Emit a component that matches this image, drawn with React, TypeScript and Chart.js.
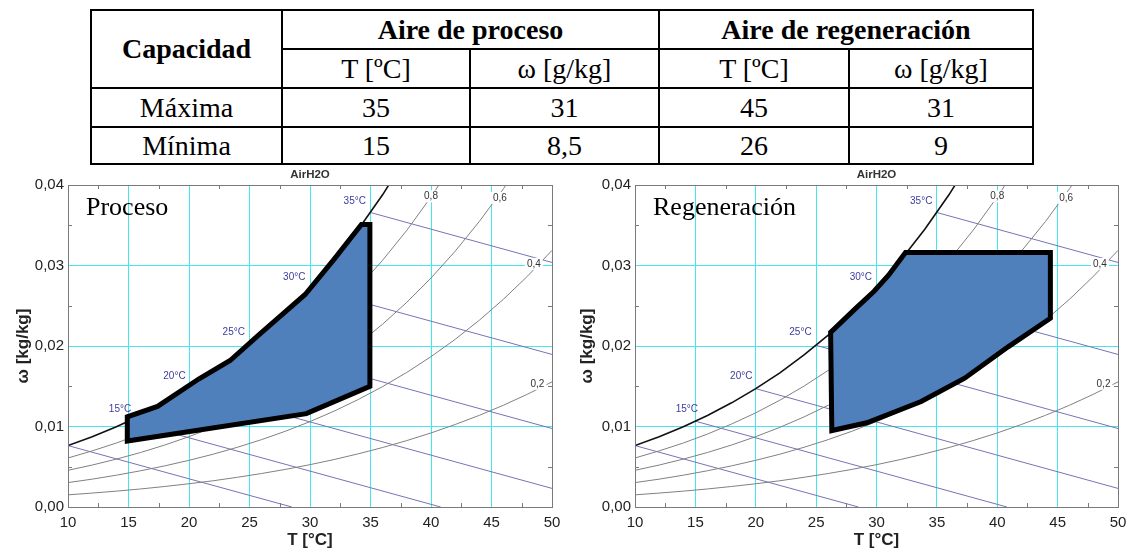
import React, { useEffect, useRef } from 'react';
import { Chart, registerables } from 'chart.js';

Chart.register(...registerables);

// ---------------- Table data ----------------
const tableCorner = 'Capacidad';
const tableGroups = ['Aire de proceso', 'Aire de regeneración'];
const tableSubHeaders = ['T [ºC]', 'ω [g/kg]', 'T [ºC]', 'ω [g/kg]'];
const tableRowLabels = ['Máxima', 'Mínima'];
const tableMaxRow = ['35', '31', '45', '31'];
const tableMinRow = ['15', '8,5', '26', '9'];

// ---------------- Chart axes ----------------
const xMin = 10;
const xMax = 50;
const xStep = 5;
const yMin = 0;
const yMax = 0.04;
const yStep = 0.01;
const chartTitle = 'AirH2O';
const xTitle = 'T [°C]';
const yTitle = 'ω [kg/kg]';

// ---------------- Psychrometric curves ----------------
const satT = [10, 12, 14, 16, 18, 20, 22, 24, 26, 28, 30, 32, 34, 36, 38];
const satW = [0.00763, 0.00873, 0.00997, 0.01137, 0.01294, 0.0147, 0.01667, 0.01889, 0.02135, 0.02412, 0.02721, 0.03066, 0.0345, 0.03878, 0.04357];

const rh80T = [10, 12, 14, 16, 18, 20, 22, 24, 26, 28, 30, 32, 34, 36, 38, 40, 42];
const rh80W = [0.00609, 0.00697, 0.00795, 0.00906, 0.01031, 0.0117, 0.01327, 0.01502, 0.01697, 0.01915, 0.02158, 0.02429, 0.0273, 0.03065, 0.03437, 0.03851, 0.04311];

const rh60T = [10, 12, 14, 16, 18, 20, 22, 24, 26, 28, 30, 32, 34, 36, 38, 40, 42, 44, 46, 48];
const rh60W = [0.00456, 0.00521, 0.00595, 0.00677, 0.0077, 0.00874, 0.0099, 0.01119, 0.01264, 0.01425, 0.01605, 0.01804, 0.02025, 0.02271, 0.02543, 0.02844, 0.03178, 0.03548, 0.03956, 0.04408];

const rh40T = [10, 12, 14, 16, 18, 20, 22, 24, 26, 28, 30, 32, 34, 36, 38, 40, 42, 44, 46, 48, 50];
const rh40W = [0.00303, 0.00346, 0.00395, 0.0045, 0.00511, 0.0058, 0.00656, 0.00742, 0.00837, 0.00943, 0.01061, 0.01191, 0.01336, 0.01496, 0.01672, 0.01868, 0.02083, 0.02321, 0.02583, 0.02871, 0.03188];

const rh20T = [10, 12, 14, 16, 18, 20, 22, 24, 26, 28, 30, 32, 34, 36, 38, 40, 42, 44, 46, 48, 50];
const rh20W = [0.00151, 0.00173, 0.00197, 0.00224, 0.00255, 0.00289, 0.00326, 0.00369, 0.00416, 0.00468, 0.00526, 0.0059, 0.00661, 0.00739, 0.00825, 0.0092, 0.01025, 0.01139, 0.01265, 0.01403, 0.01554];

// Wet-bulb lines (start on saturation curve, end at plot edge)
const wbStartT = [10, 15, 20, 25, 30, 35];
const wbStartW = [0.00763, 0.01066, 0.0147, 0.02008, 0.02721, 0.03658];
const wbEndT = [28.5, 40.8, 50, 50, 50, 50];
const wbEndW = [0, 0, 0.00231, 0.00975, 0.01895, 0.03038];

// Labels
const wbLabels = ['15°C', '20°C', '25°C', '30°C', '35°C'];
const wbLabelT = [14.3, 18.8, 23.7, 28.7, 33.7];
const wbLabelW = [0.0122, 0.01626, 0.0217, 0.0285, 0.038];

const rhLabels = ['0,8', '0,6', '0,4', '0,2'];
const rhLabelT = [40.0, 45.7, 48.5, 48.8];
const rhLabelW = [0.0386, 0.0384, 0.0302, 0.0153];

// ---------------- Operating regions ----------------
const procesoName = 'Proceso';
const procesoT = [14.9, 17.4, 20.8, 23.4, 25.7, 29.6, 32.0, 34.25, 34.95, 34.95, 29.7, 14.9];
const procesoW = [0.0112, 0.0125, 0.0159, 0.0182, 0.0213, 0.0264, 0.0308, 0.0351, 0.0351, 0.0150, 0.0116, 0.0082];

const regenName = 'Regeneración';
const regenT = [26.2, 28.3, 29.8, 31.0, 32.4, 44.4, 44.4, 40.9, 37.3, 33.7, 29.2, 26.3];
const regenW = [0.0217, 0.0247, 0.0268, 0.0288, 0.0316, 0.0316, 0.02345, 0.0199, 0.016, 0.0131, 0.01046, 0.0095];

const SANS = "'Liberation Sans', Arial, sans-serif";
const SERIF = "'Liberation Serif', 'Times New Roman', serif";
const CYAN = '#44e6ef';

function pts(T: number[], W: number[]) {
  return T.map((t, i) => ({ x: t, y: W[i] }));
}

function curve(T: number[], W: number[], color: string, width: number) {
  return {
    data: pts(T, W),
    showLine: true,
    borderColor: color,
    borderWidth: width,
    pointRadius: 0,
    fill: false,
    tension: 0,
  };
}

const overlayPlugin = {
  id: 'psyOverlay',
  afterDatasetsDraw(chart: any) {
    const { ctx, chartArea } = chart;
    const xs = chart.scales.x;
    const ys = chart.scales.y;
    const name = chart.options.plugins.psyOverlay.name;
    ctx.save();

    // RH labels with white background
    ctx.font = `10px ${SANS}`;
    ctx.textAlign = 'center';
    ctx.textBaseline = 'middle';
    rhLabels.forEach((lab, i) => {
      const px = xs.getPixelForValue(rhLabelT[i]);
      const py = ys.getPixelForValue(rhLabelW[i]);
      const w = ctx.measureText(lab).width;
      ctx.fillStyle = '#ffffff';
      ctx.fillRect(px - w / 2 - 2, py - 6, w + 4, 12);
      ctx.fillStyle = '#333333';
      ctx.fillText(lab, px, py);
    });

    // Wet-bulb labels
    ctx.fillStyle = '#3c3c9e';
    wbLabels.forEach((lab, i) => {
      ctx.fillText(lab, xs.getPixelForValue(wbLabelT[i]), ys.getPixelForValue(wbLabelW[i]));
    });

    // Title
    ctx.fillStyle = '#333333';
    ctx.font = `bold 11.5px ${SANS}`;
    ctx.fillText(chartTitle, (chartArea.left + chartArea.right) / 2, chartArea.top - 10);

    // Panel name
    ctx.fillStyle = '#000000';
    ctx.font = `26px ${SERIF}`;
    ctx.textAlign = 'left';
    ctx.textBaseline = 'alphabetic';
    ctx.fillText(name, chartArea.left + 18, chartArea.top + 30);

    // Box and minor ticks
    ctx.strokeStyle = '#7a7a7a';
    ctx.lineWidth = 1;
    ctx.strokeRect(
      Math.round(chartArea.left) + 0.5,
      Math.round(chartArea.top) + 0.5,
      Math.round(chartArea.right - chartArea.left),
      Math.round(chartArea.bottom - chartArea.top)
    );
    ctx.beginPath();
    for (let t = xMin + xStep / 2; t < xMax; t += xStep) {
      const px = Math.round(xs.getPixelForValue(t)) + 0.5;
      ctx.moveTo(px, chartArea.bottom);
      ctx.lineTo(px, chartArea.bottom - 4);
      ctx.moveTo(px, chartArea.top);
      ctx.lineTo(px, chartArea.top + 4);
    }
    for (let w = yMin + yStep / 2; w < yMax; w += yStep) {
      const py = Math.round(ys.getPixelForValue(w)) + 0.5;
      ctx.moveTo(chartArea.left, py);
      ctx.lineTo(chartArea.left + 4, py);
      ctx.moveTo(chartArea.right, py);
      ctx.lineTo(chartArea.right - 4, py);
    }
    ctx.stroke();
    ctx.restore();
  },
};

function isEdge(v: number, a: number, b: number) {
  return Math.abs(v - a) < 1e-9 || Math.abs(v - b) < 1e-9;
}

type PsyProps = {
  left: number;
  width: number;
  yAxisWidth: number;
  padRight: number;
  yTitlePad: number;
  polyT: number[];
  polyW: number[];
  name: string;
};

function PsyChart({ left, width, yAxisWidth, padRight, yTitlePad, polyT, polyW, name }: PsyProps) {
  const ref = useRef<HTMLCanvasElement | null>(null);

  useEffect(() => {
    if (!ref.current) return;
    const poly = pts(polyT, polyW);
    const datasets: any[] = [
      {
        data: [...poly, poly[0], poly[1]],
        showLine: true,
        borderColor: '#000000',
        borderWidth: 5,
        backgroundColor: '#4f80bb',
        fill: 'shape',
        pointRadius: 0,
        borderJoinStyle: 'miter',
        tension: 0,
      },
      curve(satT, satW, '#111111', 1.6),
      curve(rh80T, rh80W, '#808080', 1),
      curve(rh60T, rh60W, '#808080', 1),
      curve(rh40T, rh40W, '#808080', 1),
      curve(rh20T, rh20W, '#808080', 1),
      ...wbStartT.map((t, i) => curve([t, wbEndT[i]], [wbStartW[i], wbEndW[i]], '#7474b8', 1)),
    ];

    const chart = new Chart(ref.current, {
      type: 'scatter',
      data: { datasets },
      plugins: [overlayPlugin as any],
      options: {
        responsive: false,
        maintainAspectRatio: false,
        animation: false,
        events: [],
        layout: { padding: { left: 0, right: padRight, top: 20, bottom: 0 } },
        plugins: {
          legend: { display: false },
          tooltip: { enabled: false },
          title: { display: false },
          psyOverlay: { name },
        } as any,
        scales: {
          x: {
            type: 'linear',
            min: xMin,
            max: xMax,
            ticks: {
              stepSize: xStep,
              padding: 7,
              color: '#222222',
              font: { size: 15, family: SANS },
              maxRotation: 0,
              autoSkip: false,
              callback: (v: any) => String(v),
            },
            grid: {
              color: (c: any) => (isEdge(c.tick.value, xMin, xMax) ? 'rgba(0,0,0,0)' : CYAN),
              lineWidth: 1,
              drawTicks: false,
            },
            border: { display: false },
            title: {
              display: true,
              text: xTitle,
              color: '#222222',
              font: { size: 17, weight: 'bold', family: SANS },
              padding: { top: 0, bottom: 0 },
            },
            afterFit: (s: any) => {
              s.height = 44;
              s.paddingLeft = 0;
              s.paddingRight = 0;
            },
          },
          y: {
            type: 'linear',
            min: yMin,
            max: yMax,
            ticks: {
              stepSize: yStep,
              padding: 4,
              color: '#222222',
              font: { size: 15, family: SANS },
              callback: (v: any) => Number(v).toFixed(2).replace('.', ','),
            },
            grid: {
              color: (c: any) => (isEdge(c.tick.value, yMin, yMax) ? 'rgba(0,0,0,0)' : CYAN),
              lineWidth: 1,
              drawTicks: false,
            },
            border: { display: false },
            title: {
              display: true,
              text: yTitle,
              color: '#222222',
              font: { size: 17, weight: 'bold', family: SANS },
              padding: { top: yTitlePad, bottom: 0 },
            },
            afterFit: (s: any) => {
              s.width = yAxisWidth;
              s.paddingTop = 0;
              s.paddingBottom = 0;
            },
          },
        } as any,
      },
    });
    return () => chart.destroy();
  }, []);

  return (
    <canvas
      ref={ref}
      width={width}
      height={386}
      style={{ position: 'absolute', left, top: 165, width, height: 386 }}
    />
  );
}

function DataTable() {
  const colX = [91, 282, 470, 659, 849, 1033];
  const rowY = [10, 49, 88, 127, 164];
  const lineW = 2;
  const hLines = [
    { y: rowY[0], x1: colX[0], x2: colX[5] },
    { y: rowY[1], x1: colX[1], x2: colX[5] },
    { y: rowY[2], x1: colX[0], x2: colX[5] },
    { y: rowY[3], x1: colX[0], x2: colX[5] },
    { y: rowY[4], x1: colX[0], x2: colX[5] },
  ];
  const vLines = [
    { x: colX[0], y1: rowY[0] },
    { x: colX[1], y1: rowY[0] },
    { x: colX[2], y1: rowY[1] },
    { x: colX[3], y1: rowY[0] },
    { x: colX[4], y1: rowY[1] },
    { x: colX[5], y1: rowY[0] },
  ];
  const cell = (key: string, text: string, x1: number, x2: number, y1: number, y2: number, bold = false) => (
    <div
      key={key}
      style={{
        position: 'absolute',
        left: x1,
        top: y1,
        width: x2 - x1,
        height: y2 - y1,
        display: 'flex',
        alignItems: 'center',
        justifyContent: 'center',
        fontFamily: SERIF,
        fontSize: 28,
        fontWeight: bold ? 'bold' : 'normal',
        color: '#000',
        lineHeight: 1,
        whiteSpace: 'nowrap',
      }}
    >
      {text}
    </div>
  );
  const rows = [tableMaxRow, tableMinRow];
  return (
    <>
      {hLines.map((l, i) => (
        <div key={'h' + i} style={{ position: 'absolute', left: l.x1 - 1, top: l.y - 1, width: l.x2 - l.x1 + 2, height: lineW, background: '#000' }} />
      ))}
      {vLines.map((l, i) => (
        <div key={'v' + i} style={{ position: 'absolute', left: l.x - 1, top: l.y1 - 1, width: lineW, height: rowY[4] - l.y1 + 2, background: '#000' }} />
      ))}
      {cell('corner', tableCorner, colX[0], colX[1], rowY[0], rowY[2], true)}
      {cell('g0', tableGroups[0], colX[1], colX[3], rowY[0], rowY[1], true)}
      {cell('g1', tableGroups[1], colX[3], colX[5], rowY[0], rowY[1], true)}
      {tableSubHeaders.map((t, i) => cell('s' + i, t, colX[i + 1], colX[i + 2], rowY[1], rowY[2]))}
      {rows.map((r, ri) => (
        <React.Fragment key={'r' + ri}>
          {cell('rl' + ri, tableRowLabels[ri], colX[0], colX[1], rowY[2 + ri], rowY[3 + ri])}
          {r.map((v, ci) => cell('c' + ri + ci, v, colX[ci + 1], colX[ci + 2], rowY[2 + ri], rowY[3 + ri]))}
        </React.Fragment>
      ))}
    </>
  );
}

export default function App() {
  return (
    <div style={{ position: 'absolute', left: 0, top: 0, width: 1127, height: 551, background: '#fff', overflow: 'hidden' }}>
      <DataTable />
      <PsyChart left={0} width={560} yAxisWidth={68} padRight={8} yTitlePad={13} polyT={procesoT} polyW={procesoW} name={procesoName} />
      <PsyChart left={560} width={567} yAxisWidth={75} padRight={9} yTitlePad={17} polyT={regenT} polyW={regenW} name={regenName} />
    </div>
  );
}
